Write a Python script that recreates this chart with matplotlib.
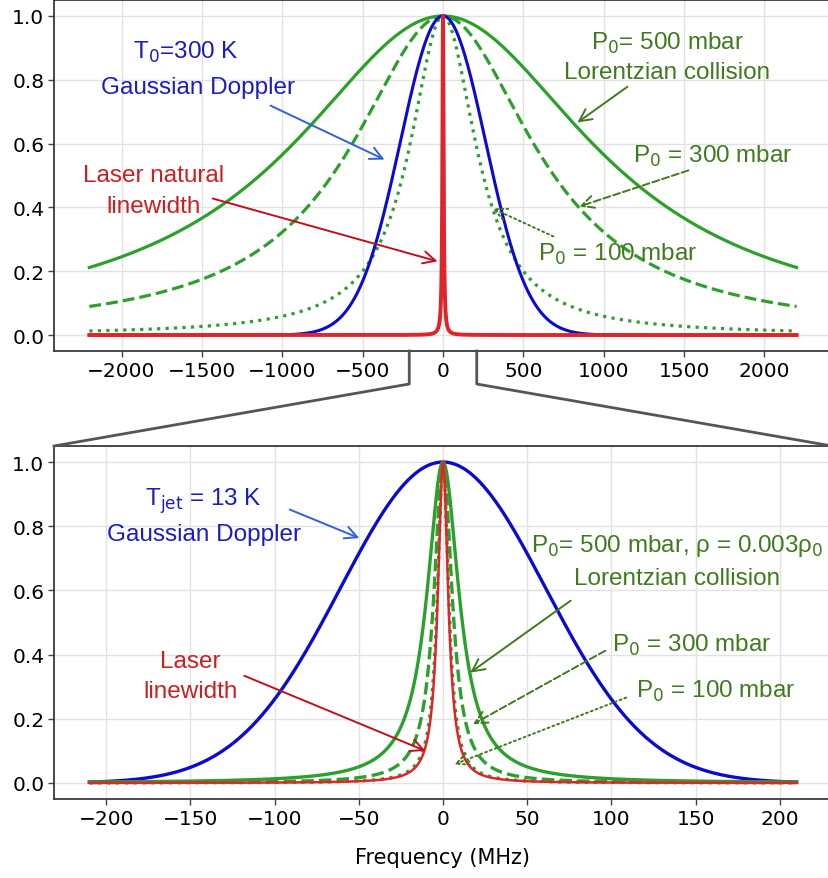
import numpy as np
import matplotlib
matplotlib.use("Agg")
import matplotlib.pyplot as plt
from matplotlib.lines import Line2D

# line-shape parameters (MHz)
pressures = [500, 300, 100]                 # mbar
styles = ['-', '--', ':']
top_lorentz_hwhm = [1140, 690, 250]         # room temperature cell
bot_lorentz_hwhm = [11.5, 6.5, 4.0]         # jet, rho = 0.003 rho0
top_doppler_sigma = 265                     # T0 = 300 K
bot_doppler_sigma = 61                      # Tjet = 13 K
top_laser_hwhm = 4.5
bot_laser_hwhm = 3.7
top_span = 2200
bot_span = 210
xticks_top = [-2000, -1500, -1000, -500, 0, 500, 1000, 1500, 2000]
xticks_bot = [-200, -150, -100, -50, 0, 50, 100, 150, 200]


def lorentz(x, g):
    return 1.0 / (1.0 + (x / g) ** 2)


def gauss(x, s):
    return np.exp(-x ** 2 / (2 * s ** 2))


GREEN = '#2ca02c'
BLUE = '#0a0ad0'
RED = '#e0252a'
TXT_GREEN = '#3f7a1e'
TXT_BLUE = '#1c1cc0'
TXT_RED = '#cc1f1f'
ARR_BLUE = '#2f62d6'
ARR_RED = '#c0101e'
FONT = ['Liberation Sans', 'DejaVu Sans']

fig = plt.figure(figsize=(8.29, 8.79), dpi=100)
ax1 = fig.add_axes([54 / 829, (879 - 352) / 879, 778 / 829, 351 / 879])
ax2 = fig.add_axes([54 / 829, (879 - 800) / 879, 778 / 829, 353 / 879])

xt = np.linspace(-top_span, top_span, 4001)
xb = np.linspace(-bot_span, bot_span, 4001)

# top panel
for g, ls in zip(top_lorentz_hwhm, styles):
    ax1.plot(xt, lorentz(xt, g), ls=ls, color=GREEN, lw=2.3)
ax1.plot(xt, gauss(xt, top_doppler_sigma), color=BLUE, lw=2.2)
ax1.plot(xt, lorentz(xt, top_laser_hwhm), color=RED, lw=2.8)

# bottom panel
ax2.plot(xb, gauss(xb, bot_doppler_sigma), color=BLUE, lw=2.4)
for g, ls in zip(bot_lorentz_hwhm, styles):
    ax2.plot(xb, lorentz(xb, g), ls=ls, color=GREEN, lw=2.4)
ax2.plot(xb, lorentz(xb, bot_laser_hwhm), color=RED, lw=1.8)

for ax, ticks in ((ax1, xticks_top), (ax2, xticks_bot)):
    ax.set_xticks(ticks)
    ax.set_yticks([0, 0.2, 0.4, 0.6, 0.8, 1.0])
    ax.set_ylim(-0.05, 1.05)
    ax.grid(True, color='#e2e2e2', lw=1.0)
    ax.set_axisbelow(True)
    ax.tick_params(labelsize=14.5, length=4, width=1, color='#444444', pad=3)
    for sp in ax.spines.values():
        sp.set_color('#3a3a3a')
        sp.set_linewidth(1.3)
ax1.set_xlim(-1.1 * top_span, 1.1 * top_span)
ax2.set_xlim(-1.1 * bot_span, 1.1 * bot_span)
ax2.set_xlabel('Frequency (MHz)', fontsize=15, labelpad=14)


def label(ax, x, y, s, c, size=17.5):
    ax.text(x, y, s, color=c, fontsize=size, ha='center', va='center', family=FONT)


def arrow(ax, start, tip, c, ls='-'):
    ax.annotate('', xy=tip, xytext=start,
                arrowprops=dict(arrowstyle='->', color=c, lw=1.4, ls=ls,
                                mutation_scale=22, shrinkA=0, shrinkB=0))


# top annotations
label(ax1, -1601, 0.888, r'T$_0$=300 K', TXT_BLUE)
label(ax1, -1527, 0.778, 'Gaussian Doppler', TXT_BLUE)
arrow(ax1, (-1073, 0.719), (-364, 0.55), ARR_BLUE)
label(ax1, 1397, 0.916, r'P$_0$= 500 mbar', TXT_GREEN)
label(ax1, 1397, 0.825, 'Lorentzian collision', TXT_GREEN)
arrow(ax1, (1147, 0.778), (836, 0.666), TXT_GREEN)
label(ax1, 1676, 0.5625, r'P$_0$ = 300 mbar', TXT_GREEN)
arrow(ax1, (1527, 0.516), (849, 0.403), TXT_GREEN, '--')
label(ax1, 1086, 0.256, r'P$_0$ = 100 mbar', TXT_GREEN)
arrow(ax1, (687, 0.309), (308, 0.397), TXT_GREEN, ':')
label(ax1, -1800, 0.50, 'Laser natural', TXT_RED)
label(ax1, -1800, 0.403, 'linewidth', TXT_RED)
arrow(ax1, (-1433, 0.428), (-34, 0.231), ARR_RED)

# bottom annotations
label(ax2, -142, 0.88, r'T$_{\rm jet}$ = 13 K', TXT_BLUE)
label(ax2, -142, 0.777, 'Gaussian Doppler', TXT_BLUE)
arrow(ax2, (-91, 0.852), (-49.7, 0.763), ARR_BLUE)
label(ax2, 139, 0.74, r'P$_0$= 500 mbar, ρ = 0.003ρ$_0$', TXT_GREEN)
label(ax2, 139, 0.639, 'Lorentzian collision', TXT_GREEN)
arrow(ax2, (75.8, 0.568), (16.2, 0.344), TXT_GREEN)
label(ax2, 148, 0.433, r'P$_0$ = 300 mbar', TXT_GREEN)
arrow(ax2, (96.3, 0.412), (17.8, 0.183), TXT_GREEN, '--')
label(ax2, 162, 0.287, r'P$_0$ = 100 mbar', TXT_GREEN)
arrow(ax2, (108.8, 0.266), (6.8, 0.058), TXT_GREEN, ':')
label(ax2, -150, 0.38, 'Laser', TXT_RED)
label(ax2, -150, 0.287, 'linewidth', TXT_RED)
arrow(ax2, (-118, 0.334), (-10.5, 0.1), ARR_RED)

# zoom connector between the panels
to_fig = fig.transFigure.inverted()
for side, corner in ((-1, 0), (1, 1)):
    p0 = ax1.transData.transform((side * bot_span, -0.05))
    p1 = p0 - np.array([0, 33])
    p2 = ax2.transAxes.transform((corner, 1))
    pts = to_fig.transform(np.array([p0, p1, p2]))
    fig.add_artist(Line2D(pts[:, 0], pts[:, 1], color='#555555', lw=2.0,
                          transform=fig.transFigure, clip_on=False))

fig.savefig('out.png', dpi=100)
